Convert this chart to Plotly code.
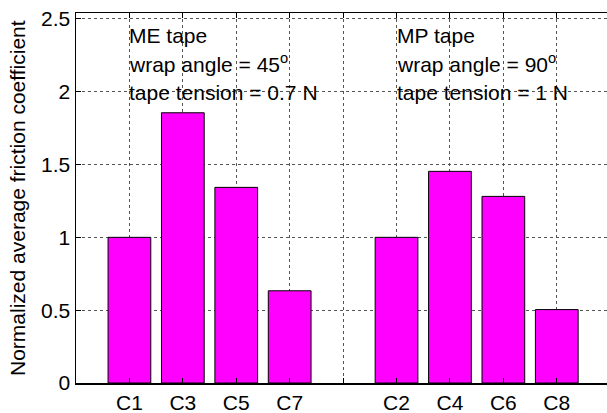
import plotly.graph_objects as go

positions = [1, 2, 3, 4, 6, 7, 8, 9]
labels = ["C1", "C3", "C5", "C7", "C2", "C4", "C6", "C8"]
values = [1.0, 1.855, 1.343, 0.633, 1.0, 1.453, 1.281, 0.504]
tick_vals = [1, 2, 3, 4, 5, 6, 7, 8, 9]
tick_text = ["C1", "C3", "C5", "C7", "", "C2", "C4", "C6", "C8"]

font = "Liberation Sans, Arial, Helvetica, sans-serif"
FS = 21

fig = go.Figure()
fig.add_trace(go.Bar(
    x=positions, y=values, width=0.8,
    marker=dict(color="#FF00FF", line=dict(color="black", width=1)),
    hoverinfo="skip", showlegend=False,
))

fig.update_layout(
    width=607, height=413,
    margin=dict(l=76, r=0, t=13, b=30),
    paper_bgcolor="white", plot_bgcolor="white",
    font=dict(family=font, size=FS, color="black"),
    bargap=0,
)
fig.update_xaxes(
    range=[0, 9.94], tickvals=tick_vals, ticktext=tick_text,
    showgrid=True, gridcolor="#555555", griddash="dot", gridwidth=1,
    showline=True, linecolor="black", linewidth=1.5, mirror="allticks",
    ticks="inside", ticklen=5, tickcolor="black",
    zeroline=False, tickfont=dict(size=FS), automargin=False,
)
fig.update_yaxes(
    range=[0, 2.54], tickvals=[0, 0.5, 1, 1.5, 2, 2.5],
    ticktext=["0", "0.5", "1", "1.5", "2", "2.5"],
    showgrid=True, gridcolor="#555555", griddash="dot", gridwidth=1,
    showline=True, linecolor="black", linewidth=1.5, mirror=False,
    ticks="inside", ticklen=5, tickcolor="black",
    zeroline=False, tickfont=dict(size=FS), automargin=False,
)

fig.add_annotation(
    text="Normalized average friction coefficient", textangle=-90,
    xref="paper", yref="paper", x=0, y=0.5, xshift=-59,
    xanchor="center", yanchor="middle", showarrow=False,
    font=dict(size=FS),
)

left_lines = ["ME tape", "wrap angle = 45<sup>o</sup>", "tape tension = 0.7 N"]
right_lines = ["MP tape", "wrap angle = 90<sup>o</sup>", "tape tension = 1 N"]
line_y = [35, 63, 92]
for lines, xpos in ((left_lines, 1), (right_lines, 6)):
    for txt, py in zip(lines, line_y):
        fig.add_annotation(
            text=txt, xref="x", yref="paper", x=xpos,
            y=1 - (py - 13) / 370.0, xanchor="left", yanchor="middle",
            showarrow=False, font=dict(size=FS), xshift=-2,
        )

fig.write_html(
    "out.html",
    config={"displayModeBar": False, "staticPlot": True},
    post_script="document.body.style.margin='0';document.body.style.overflow='hidden';",
)
